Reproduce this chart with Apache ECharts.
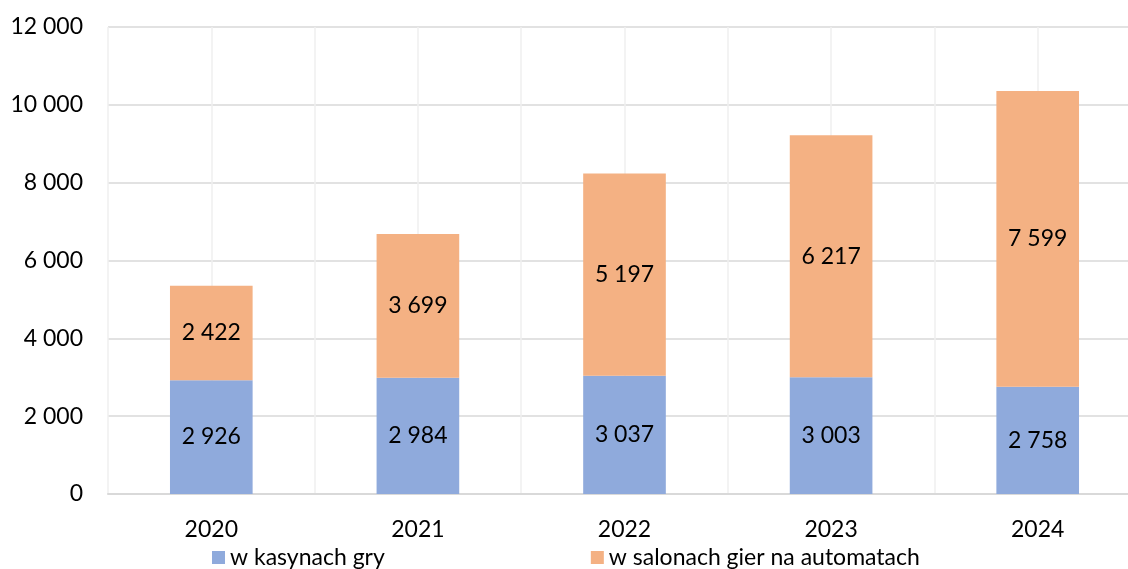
<!DOCTYPE html>
<html>
<head>
<meta charset="utf-8">
<script src="https://cdn.jsdelivr.net/npm/echarts@6/dist/echarts.min.js"></script>
<style>
  html, body { margin: 0; padding: 0; background: #fff; }
  #chart { width: 1128px; height: 569px; }
</style>
</head>
<body>
<div id="chart"></div>
<script>
  var years = ['2020', '2021', '2022', '2023', '2024'];
  var kasyna = [2926, 2984, 3037, 3003, 2758];
  var salony = [2422, 3699, 5197, 6217, 7599];
  var seriesNames = ['w kasynach gry', 'w salonach gier na automatach'];

  function fmt(v) {
    return String(v).replace(/\B(?=(\d{3})+(?!\d))/g, ' ');
  }

  var font = 'Lato, "Open Sans", sans-serif';

  var myChart = echarts.init(document.getElementById('chart'));
  var option = {
    animation: false,
    textStyle: { fontFamily: font },
    // plot runs a little past the right edge, as in the original
    grid: { left: 108, width: 1033, top: 27, bottom: 75, outerBoundsMode: 'none', containLabel: false },
    legend: {
      data: seriesNames,
      left: 207,
      top: 541,
      itemWidth: 13,
      itemHeight: 13,
      itemGap: 206,
      icon: 'rect',
      textStyle: { fontSize: 23, color: '#000', fontFamily: font }
    },
    xAxis: [
      {
        type: 'category',
        data: years,
        axisLine: { lineStyle: { color: '#d9d9d9', width: 2 } },
        axisTick: { show: false },
        axisLabel: { fontSize: 23, color: '#000', margin: 24 },
        splitLine: { show: false }
      },
      {
        type: 'value',
        min: 0,
        max: 10,
        interval: 1,
        show: true,
        axisLine: { show: false },
        axisTick: { show: false },
        axisLabel: { show: false },
        splitLine: { show: true, lineStyle: { color: '#efefef', width: 1.5 } }
      }
    ],
    yAxis: {
      type: 'value',
      min: 0,
      max: 12000,
      interval: 2000,
      axisLine: { show: false },
      axisTick: { show: false },
      axisLabel: {
        fontSize: 23,
        color: '#000',
        margin: 25,
        formatter: function (v) { return fmt(v); }
      },
      splitLine: { lineStyle: { color: '#d9d9d9', width: 1.5 } }
    },
    series: [
      {
        name: seriesNames[0],
        type: 'bar',
        stack: 'total',
        barWidth: '40%',
        data: kasyna,
        itemStyle: { color: '#8faadc' },
        label: {
          show: true,
          position: 'inside',
          fontSize: 23,
          color: '#000',
          formatter: function (p) { return fmt(p.value); }
        }
      },
      {
        name: seriesNames[1],
        type: 'bar',
        stack: 'total',
        data: salony,
        itemStyle: { color: '#f4b183' },
        label: {
          show: true,
          position: 'inside',
          fontSize: 23,
          color: '#000',
          formatter: function (p) { return fmt(p.value); }
        }
      }
    ]
  };
  myChart.setOption(option);
</script>
</body>
</html>
